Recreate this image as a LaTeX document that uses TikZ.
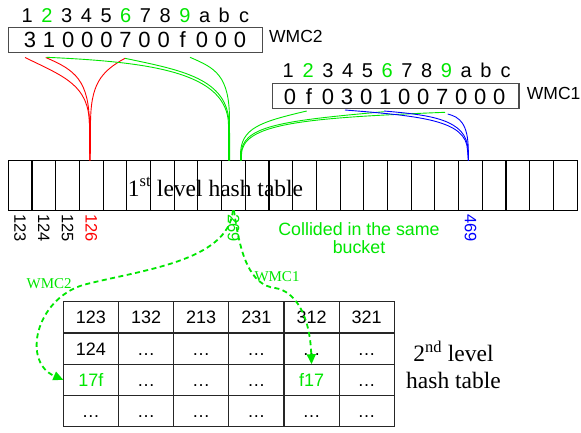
\documentclass[tikz,border=0pt]{standalone}
\usepackage{fontspec}
\setmainfont{Liberation Sans}
\newfontfamily\tnr{Liberation Serif}
\usetikzlibrary{arrows.meta}
\definecolor{hgreen}{RGB}{0,230,0}
\definecolor{hred}{RGB}{255,0,0}
\definecolor{hblue}{RGB}{0,0,255}

\begin{document}
\begin{tikzpicture}[x=1pt, y=-1pt,
	idx/.style={font=\fontsize{20}{20}\selectfont, inner sep=0pt, text height=14.3pt, text depth=0pt},
	val/.style={font=\fontsize{22}{22}\selectfont, inner sep=0pt, text height=15.7pt, text depth=0pt},
	wbox/.style={draw=black!70, line width=1.2pt, minimum height=25pt, inner sep=0pt},
	hcell/.style={draw, line width=1.1pt, minimum width=23.7pt, minimum height=49.6pt, inner sep=0pt, outer sep=0pt},
	tcell/.style={draw=black!85, line width=1.3pt, minimum width=55.17pt, minimum height=31.25pt, inner sep=0pt, outer sep=0pt, font=\fontsize{18}{18}\selectfont, text height=13pt, text depth=0pt},
	bkt/.style={rotate=-90, anchor=west, inner sep=3.5pt, font=\fontsize{16.5}{16.5}\selectfont},
	link/.style={line width=0.9pt},
	walk/.style={hgreen, line width=1.8pt, dash pattern=on 5pt off 3.5pt, -{Triangle[length=10pt,width=9pt]}},
	wlbl/.style={hgreen, font=\tnr\fontsize{15}{15}\selectfont}]
	
	\useasboundingbox (0,0) rectangle (581,432);
	
	% the two words
	\node[wbox, minimum width=254pt] (wmc2) at (135.3,39.8) {};
	\node[wbox, minimum width=246.7pt] (wmc1) at (395.65,95.8) {};
	\node[anchor=west, inner sep=0pt, font=\fontsize{17.5}{17.5}\selectfont] (n2) at (269,36) {WMC2};
	\node[anchor=west, inner sep=0pt, font=\fontsize{17.5}{17.5}\selectfont] (n1) at (526.7,93.3) {WMC1};
	\foreach \ch/\col [count=\i] in {1/black,2/hgreen,3/black,4/black,5/black,6/hgreen,7/black,8/black,9/hgreen,a/black,b/black,c/black} {
		\node[idx, text=\col] (ia\i) at ({27.3+(\i-1)*19.7},15) {\ch};
		\node[idx, text=\col] (ib\i) at ({288.3+(\i-1)*19.76},70.7) {\ch};
	}
	\foreach \u/\v [count=\i] in {3/0,1/f,0/0,0/3,0/0,7/1,0/0,0/0,f/7,0/0,0/0,0/0} {
		\node[val] (va\i) at ({30+(\i-1)*19.1},40) {\u};
		\node[val] (vb\i) at ({290+(\i-1)*19.03},96.7) {\v};
	}
	
	% 1st level table
	\foreach \i in {1,...,24}
		\node[hcell] (c\i) at ({8.3+(\i-0.5)*23.7},185.5) {};
	\node[anchor=base, inner sep=0pt, font=\tnr\fontsize{23.5}{23.5}\selectfont] (lvl1) at (215.5,196) {1\textsuperscript{st} level hash table};
	\node[bkt] (k123) at (c1.south) {123};
	\node[bkt] (k124) at (c2.south) {124};
	\node[bkt] (k125) at (c3.south) {125};
	\node[bkt, text=hred] (k126) at (c4.south) {126};
	\node[bkt, text=hgreen] (k269) at (c10.south) {269};
	\node[bkt, text=hblue] (k469) at (c20.south) {469};
	\node[anchor=base, align=center, inner sep=0pt, text=hgreen, font=\fontsize{17.8}{18}\selectfont] (coll) at (359,253.7) {Collided in the same\\bucket};
	
	% starts of the hash links
	\coordinate (w2r1) at (25,57.5);
	\coordinate (w2r2) at (45.7,57.5);
	\coordinate (w2r6) at (125,58.3);
	\coordinate (w2g2) at (46.7,57.3);
	\coordinate (w2g6) at (125,58.3);
	\coordinate (w2g9) at (190,57.3);
	\coordinate (w1g2) at (306.7,111);
	\coordinate (w1g6) at (384,111.7);
	\coordinate (w1g9) at (445,112.3);
	\coordinate (w1b4) at (345,110);
	\coordinate (w1b6) at (384,111);
	\coordinate (w1b9) at (447.7,114);
	
	\draw[link, hred] (w2r1) .. controls (65,77) and (89,85) .. (89.5,125) -- ([xshift=-1.5pt]c4.north);
	\draw[link, hred] (w2r2) .. controls (75,70) and (89,80) .. (89.5,125) -- ([xshift=-1.5pt]c4.north);
	\draw[link, hred] (w2r6) .. controls (100,72) and (90.5,85) .. (90.5,125) -- ([xshift=-1pt]c4.north);
	
	\draw[link, hgreen] (w2g2) .. controls (150,62) and (228,72) .. (228.5,125) -- ([xshift=-4.8pt]c10.north);
	\draw[link, hgreen] (w2g6) .. controls (180,70) and (229,78) .. (229,125) -- ([xshift=-4.3pt]c10.north);
	\draw[link, hgreen] (w2g9) .. controls (215,68) and (229.5,75) .. (229.5,120) -- ([xshift=-3.8pt]c10.north);
	
	\draw[link, hgreen] (w1g2) .. controls (260,122) and (240.5,128) .. (240.5,155) -- ([xshift=7pt]c10.north);
	\draw[link, hgreen] (w1g6) .. controls (280,121) and (241,126) .. (241,155) -- ([xshift=7.5pt]c10.north);
	\draw[link, hgreen] (w1g9) .. controls (300,118) and (241.5,124) .. (241.5,155) -- ([xshift=8pt]c10.north);
	
	\draw[link, hblue] (w1b4) .. controls (420,116) and (466.5,120) .. (467.5,150) -- ([xshift=-2pt]c20.north);
	\draw[link, hblue] (w1b6) .. controls (430,115) and (467,119) .. (468,150) -- ([xshift=-2pt]c20.north);
	\draw[link, hblue] (w1b9) .. controls (460,117) and (468,124) .. (468.3,150) -- ([xshift=-2pt]c20.north);
	
	% 2nd level table
	\foreach \row [count=\r] in {{123,132,213,231,312,321},{124,\ldots,\ldots,\ldots,\ldots,\ldots},{\textcolor{hgreen}{17f},\ldots,\ldots,\ldots,\textcolor{hgreen}{f17},\ldots},{\ldots,\ldots,\ldots,\ldots,\ldots,\ldots}}
		\foreach \v [count=\k] in \row
			\node[tcell] (t\r\k) at ({63.3+(\k-0.5)*55.17},{301.7+(\r-0.5)*31.25}) {\v};
	\node[anchor=base, align=center, inner sep=0pt, font=\tnr\fontsize{23.5}{26.6}\selectfont] (lvl2) at (453.5,388.3) {2\textsuperscript{nd} level\\hash table};
	
	\draw[walk] ([xshift=-0.5pt]c10.south) .. controls (228,262) and (140,270) .. (83,285) .. controls (35,300) and (22,362) .. (t31.west);
	\draw[walk] ([xshift=0.5pt]c10.south) .. controls (240,255) and (250,285) .. (275,288) .. controls (295,291) and (310,315) .. (t35.north);
	\node[wlbl] (lw2) at (49.2,284) {WMC2};
	\node[wlbl] (lw1) at (277,276.7) {WMC1};
	
\end{tikzpicture}
\end{document}
